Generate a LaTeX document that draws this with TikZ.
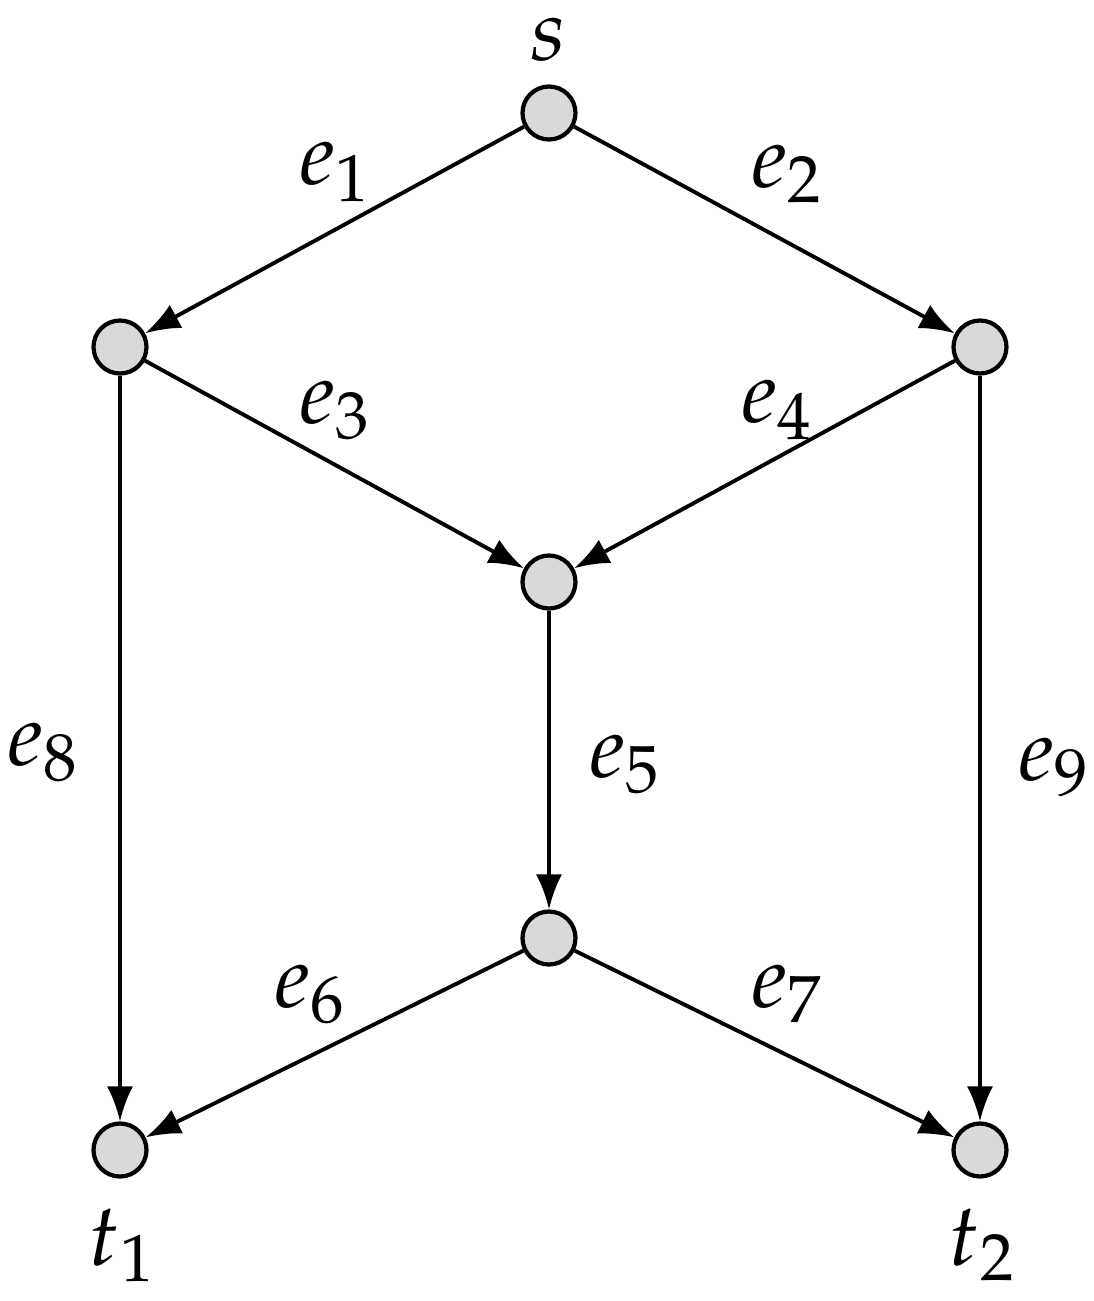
\documentclass[tikz,border=0pt]{standalone}
\usepackage{amsmath}
\usepackage{mathpazo}
\usepackage{xcolor}
\usepackage{tikz}
\usetikzlibrary{arrows.meta}

\begin{document}
\begin{tikzpicture}[x=1cm,y=-1cm,
  vert/.style={circle,draw=black,fill=black!15,line width=1.2pt,minimum size=0.53cm,inner sep=0pt},
  arc/.style={line width=1.1pt,-{Latex[length=10pt,width=7.5pt]}},
  lbl/.style={font=\fontsize{25}{30}\selectfont,inner sep=0pt}]
\useasboundingbox (0,0) rectangle (10.94,13.01);
% vertices
\node[vert] (s) at (5.49,1.13) {};
\node[vert] (u) at (1.20,3.47) {};
\node[vert] (w) at (9.80,3.47) {};
\node[vert] (m) at (5.49,5.82) {};
\node[vert] (n) at (5.49,9.38) {};
\node[vert] (t1) at (1.20,11.50) {};
\node[vert] (t2) at (9.80,11.50) {};
% edges
\draw[arc] (s) -- (u);
\draw[arc] (s) -- (w);
\draw[arc] (u) -- (m);
\draw[arc] (w) -- (m);
\draw[arc] (m) -- (n);
\draw[arc] (n) -- (t1);
\draw[arc] (n) -- (t2);
\draw[arc] (u) -- (t1);
\draw[arc] (w) -- (t2);
% labels
\node[lbl] (ls) at (5.49,0.40) {$s$};
\node[lbl] (l1) at (3.35,1.72) {$e_1$};
\node[lbl] (l2) at (7.87,1.74) {$e_2$};
\node[lbl] (l3) at (3.35,4.10) {$e_3$};
\node[lbl] (l4) at (7.77,4.10) {$e_4$};
\node[lbl] (l5) at (6.25,7.64) {$e_5$};
\node[lbl] (l6) at (3.10,9.94) {$e_6$};
\node[lbl] (l7) at (7.87,9.94) {$e_7$};
\node[lbl] (l8) at (0.43,7.52) {$e_8$};
\node[lbl] (l9) at (10.54,7.67) {$e_9$};
\node[lbl] (lt1) at (1.22,12.45) {$t_1$};
\node[lbl] (lt2) at (9.82,12.45) {$t_2$};
\end{tikzpicture}
\end{document}
